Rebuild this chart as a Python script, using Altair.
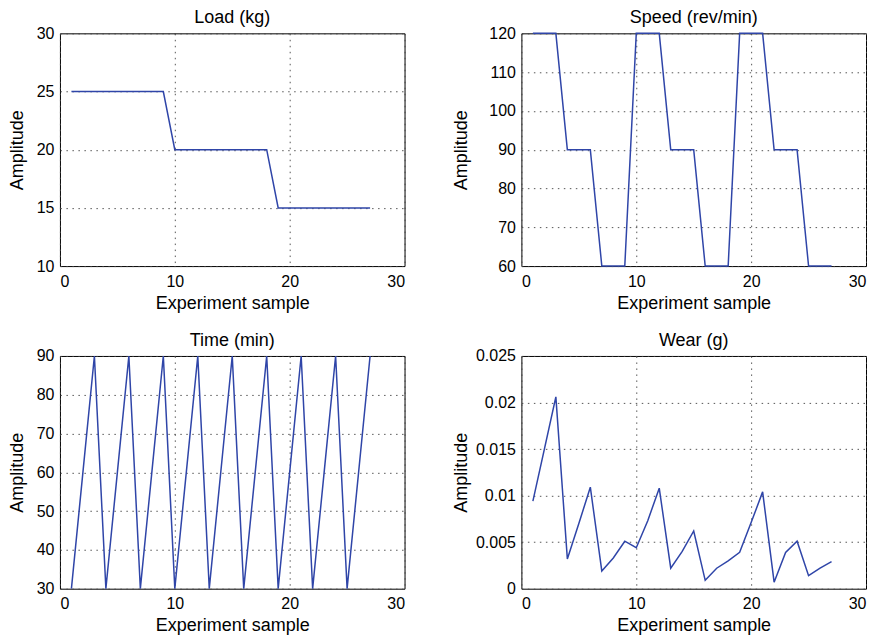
import altair as alt
import pandas as pd

samples = list(range(1, 28))
load_kg = [25] * 9 + [20] * 9 + [15] * 9
speed_rpm = [120, 120, 120, 90, 90, 90, 60, 60, 60] * 3
time_min = [30, 60, 90] * 9
wear_g = [0.0094, 0.0150, 0.0206, 0.0032, 0.0070, 0.0109, 0.0019, 0.0033, 0.0051,
          0.0044, 0.0073, 0.0108, 0.0022, 0.0040, 0.0062, 0.0009, 0.0022, 0.0030,
          0.0039, 0.0071, 0.0104, 0.0007, 0.0039, 0.0051, 0.0014, 0.0022, 0.0029]

df = pd.DataFrame({"sample": samples, "load": load_kg, "speed": speed_rpm,
                   "time": time_min, "wear": wear_g})

LINE = "#2f45a8"
FONT = "Liberation Sans"
W, H = 345, 233


def panel(field, title, ydom, yticks, title_x, yfmt=None):
    yaxis_kwargs = dict(values=yticks, title="Amplitude", titleX=title_x,
                        titleAngle=270, titleBaseline="middle", titleAlign="center")
    if yfmt:
        yaxis_kwargs["format"] = yfmt
    return alt.Chart(df).mark_line(color=LINE, strokeWidth=1.5, clip=False).encode(
        x=alt.X("sample:Q", scale=alt.Scale(domain=[0, 30], nice=False),
                axis=alt.Axis(values=[0, 10, 20, 30], title="Experiment sample")),
        y=alt.Y(f"{field}:Q", scale=alt.Scale(domain=ydom, nice=False, zero=False),
                axis=alt.Axis(**yaxis_kwargs)),
    ).properties(
        width=W, height=H,
        title=alt.TitleParams(title, fontSize=18, fontWeight="normal", font=FONT,
                              color="black", offset=-2),
    )


p1 = panel("load", "Load (kg)", [10, 30], [10, 15, 20, 25, 30], -42)
p2 = panel("speed", "Speed (rev/min)", [60, 120], [60, 70, 80, 90, 100, 110, 120], -60)
p3 = panel("time", "Time (min)", [30, 90], [30, 40, 50, 60, 70, 80, 90], -42)
p4 = panel("wear", "Wear (g)", [0, 0.025], [0, 0.005, 0.01, 0.015, 0.02, 0.025], -60, yfmt="~g")

row1 = alt.hconcat(p1, p2, spacing=117, bounds="flush")
row2 = alt.hconcat(p3, p4, spacing=117, bounds="flush")
chart = alt.vconcat(row1, row2, spacing=18).properties(
    padding={"left": 0, "top": 0, "right": 5, "bottom": 0}
).configure_view(
    stroke="black", strokeWidth=1
).configure_axis(
    grid=True, gridColor="#444444", gridDash=[1.5, 4.5], gridWidth=1, gridOpacity=0.9,
    domain=False, ticks=False,
    labelFont=FONT, labelFontSize=16, labelColor="black", labelPadding=6,
    titleFont=FONT, titleFontSize=18, titleFontWeight="normal", titleColor="black",
    titlePadding=5,
).configure_axisX(labelPadding=7)

chart.save("out.html", embed_options={"renderer": "svg", "actions": False})
